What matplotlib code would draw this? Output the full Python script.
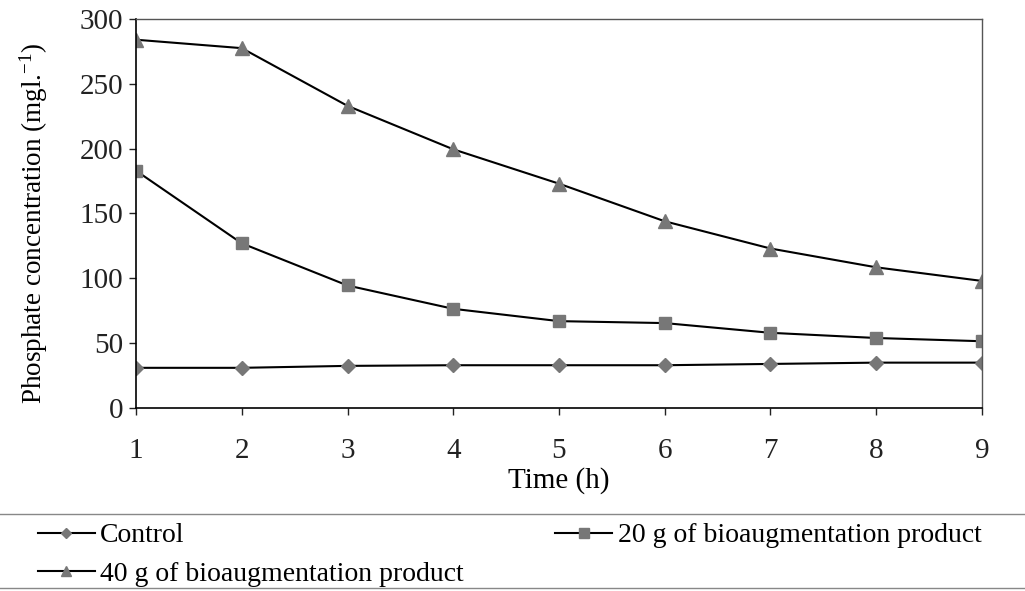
import matplotlib.pyplot as plt
from matplotlib.lines import Line2D

plt.rcParams['font.family'] = ['Liberation Serif', 'DejaVu Serif']
plt.rcParams['mathtext.default'] = 'regular'

tempo = [1, 2, 3, 4, 5, 6, 7, 8, 9]
controle = [31, 31, 32.5, 33, 33, 33, 34, 35, 35]
produto_20g = [183, 127, 94.5, 76.5, 67, 65.5, 58, 54, 51.5]
produto_40g = [284, 277.5, 233, 199.5, 173, 144, 123, 108.5, 98]

cinza = '#777777'

fig = plt.figure(figsize=(10.25, 5.91), dpi=100)
ax = fig.add_axes([0.1327, 0.3096, 0.8253, 0.6583])

ax.plot(tempo, controle, color='black', lw=1.5, marker='D', ms=7,
        mfc=cinza, mec=cinza, label='Control')
ax.plot(tempo, produto_20g, color='black', lw=1.5, marker='s', ms=8.5,
        mfc=cinza, mec=cinza, label='20 g of bioaugmentation product')
ax.plot(tempo, produto_40g, color='black', lw=1.5, marker='^', ms=9.5,
        mfc=cinza, mec=cinza, label='40 g of bioaugmentation product')

ax.set_xlim(1, 9)
ax.set_ylim(0, 300)
ax.set_xticks(tempo)
ax.set_yticks(range(0, 301, 50))
ax.tick_params(labelsize=21, length=5, width=1, colors='#222222')
ax.tick_params(axis='x', pad=16.5)
ax.tick_params(axis='y', pad=4)
ax.spines['top'].set_color('#555555')
ax.spines['right'].set_color('#555555')
ax.spines['top'].set_linewidth(1)
ax.spines['right'].set_linewidth(1)
ax.spines['left'].set_linewidth(1.2)
ax.spines['bottom'].set_linewidth(1.2)
ax.set_xlabel('Time (h)', fontsize=21, labelpad=2)
ax.set_ylabel('Phosphate concentration (mgl.$^{-1}$)', fontsize=19.5)
ax.yaxis.set_label_coords(-0.102, 0.475)

h, l = ax.get_legend_handles_labels()
ordem = [0, 2, 1]
fig.legend([h[i] for i in ordem], [l[i] for i in ordem], ncol=2,
           loc='upper left', bbox_to_anchor=(0.0234, 0.1387), frameon=False,
           fontsize=20, handlelength=2.05, handletextpad=0.2,
           columnspacing=3.28, labelspacing=0.48, borderpad=0, markerscale=0.8)

fig.add_artist(Line2D([0, 1], [1 - 514 / 591, 1 - 514 / 591],
                      transform=fig.transFigure, color='#888888', lw=1))
fig.add_artist(Line2D([0, 1], [1 - 588 / 591, 1 - 588 / 591],
                      transform=fig.transFigure, color='#888888', lw=1))

fig.savefig('out.png', dpi=100)
